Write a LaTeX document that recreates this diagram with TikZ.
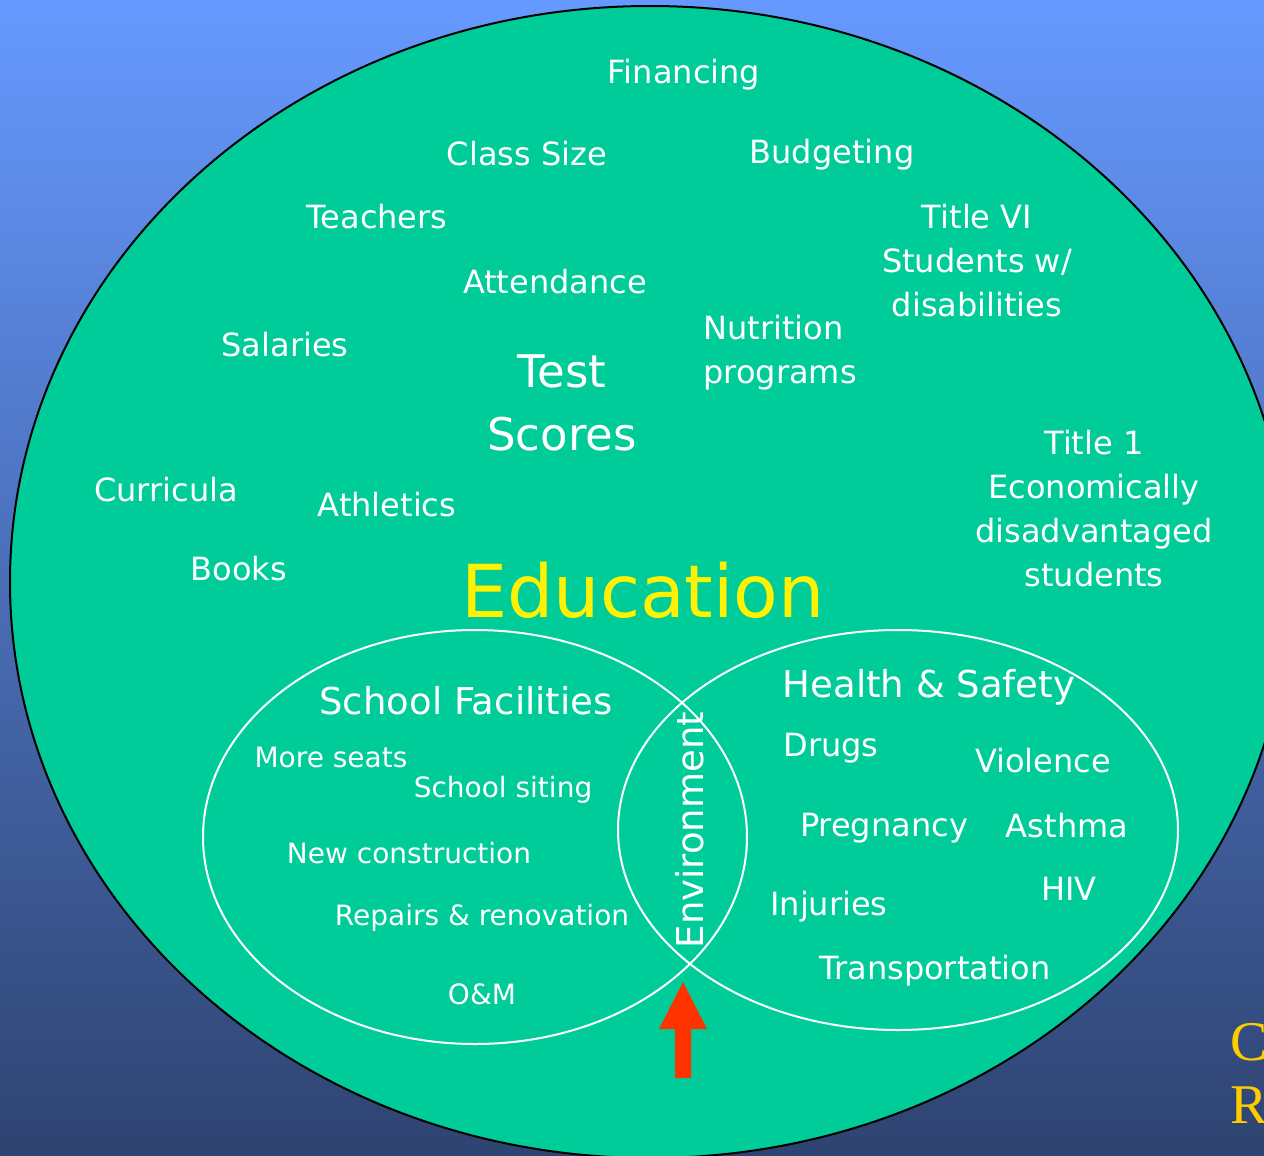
\documentclass[tikz,border=0pt]{standalone}
\usepackage{fontspec}
\setmainfont{DejaVu Sans}
\newfontfamily\capfont{Liberation Serif}
\usetikzlibrary{positioning}
\definecolor{bgtop}{HTML}{6699FF}
\definecolor{bgbot}{HTML}{2E4370}
\definecolor{edugreen}{HTML}{00CC99}
\definecolor{arrowred}{HTML}{FF3300}
\definecolor{capgold}{HTML}{FFCC00}
\tikzset{
  lbl/.style={text=white,inner sep=0pt,align=center,font=\fontsize{32}{44}\selectfont},
  sml/.style={lbl,font=\fontsize{28}{36}\selectfont},
  hdr/.style={lbl,font=\fontsize{37}{44}\selectfont},
  ring/.style={draw=white,line width=2pt},
}

\begin{document}
\begin{tikzpicture}[x=1pt,y=-1pt]

% Background
\useasboundingbox (0,0) rectangle (1264,1156);
\clip (0,0) rectangle (1264,1156);
\shade[top color=bgtop,bottom color=bgbot] (0,0) rectangle (1264,1156);

% Education ellipse
\draw[fill=edugreen,line width=2pt] (650,582) ellipse [x radius=640pt, y radius=576pt];

% Facilities and health ellipses
\draw[ring] (475,837) ellipse [x radius=272pt, y radius=207pt];
\draw[ring] (898,830) ellipse [x radius=280pt, y radius=200pt];

% Education topics
\node[lbl] (fin) at (684,75)  {Financing};
\node[lbl] (cls) at (527,154) {Class Size};
\node[lbl] (bud) at (832,155) {Budgeting};
\node[lbl] (tea) at (377,217) {Teachers};
\node[lbl] (tsix) at (977,261) {Title VI\\Students w/\\disabilities};
\node[lbl] (att) at (555,282) {Attendance};
\node[lbl] (sal) at (285,345) {Salaries};
\node[lbl,align=left] (nut) at (780,353) {Nutrition\\programs};
\node[lbl,font=\fontsize{45}{63}\selectfont] (tst) at (562,403) {Test\\Scores};
\node[lbl] (tone) at (1094,509) {Title 1\\Economically\\disadvantaged\\students};
\node[lbl] (cur) at (166,490) {Curricula};
\node[lbl] (ath) at (387,505) {Athletics};
\node[lbl] (bks) at (239,569) {Books};
\node[lbl,text=yellow,font=\fontsize{73}{80}\selectfont] (edu) at (643,590) {Education};

% School facilities
\node[hdr] (fac) at (466,701) {School Facilities};
\node[sml] (sea) at (331,757) {More seats};
\node[sml] (sit) at (503,790) {School siting};
\node[sml] (con) at (409,853) {New construction};
\node[sml] (rep) at (482,918) {Repairs \& renovation};
\node[sml] (oam) at (482,994) {O\&M};

% Health and safety
\node[hdr] (hs)  at (929,687) {Health \& Safety};
\node[lbl] (drg) at (831,748) {Drugs};
\node[lbl] (vio) at (1043,761) {Violence};
\node[lbl] (prg) at (884,828) {Pregnancy};
\node[lbl] (ast) at (1067,826) {Asthma};
\node[lbl] (hiv) at (1069,889) {HIV};
\node[lbl] (inj) at (829,907) {Injuries};
\node[lbl] (trn) at (935,971) {Transportation};

% Overlap
\node[hdr,rotate=90] (env) at (690,830) {Environment};

% Arrow
\fill[arrowred] (675,1078) -- (675,1029) -- (659,1029) -- (683,982) -- (707,1029) -- (691,1029) -- (691,1078) -- cycle;

% Cut-off letters
\node[anchor=base west,inner sep=0pt,text=capgold,font=\capfont\fontsize{56}{60}\selectfont] (cc) at (1230,1060) {C};
\node[anchor=base west,inner sep=0pt,text=capgold,font=\capfont\fontsize{56}{60}\selectfont] (rr) at (1230,1123) {R};

\end{tikzpicture}
\end{document}
